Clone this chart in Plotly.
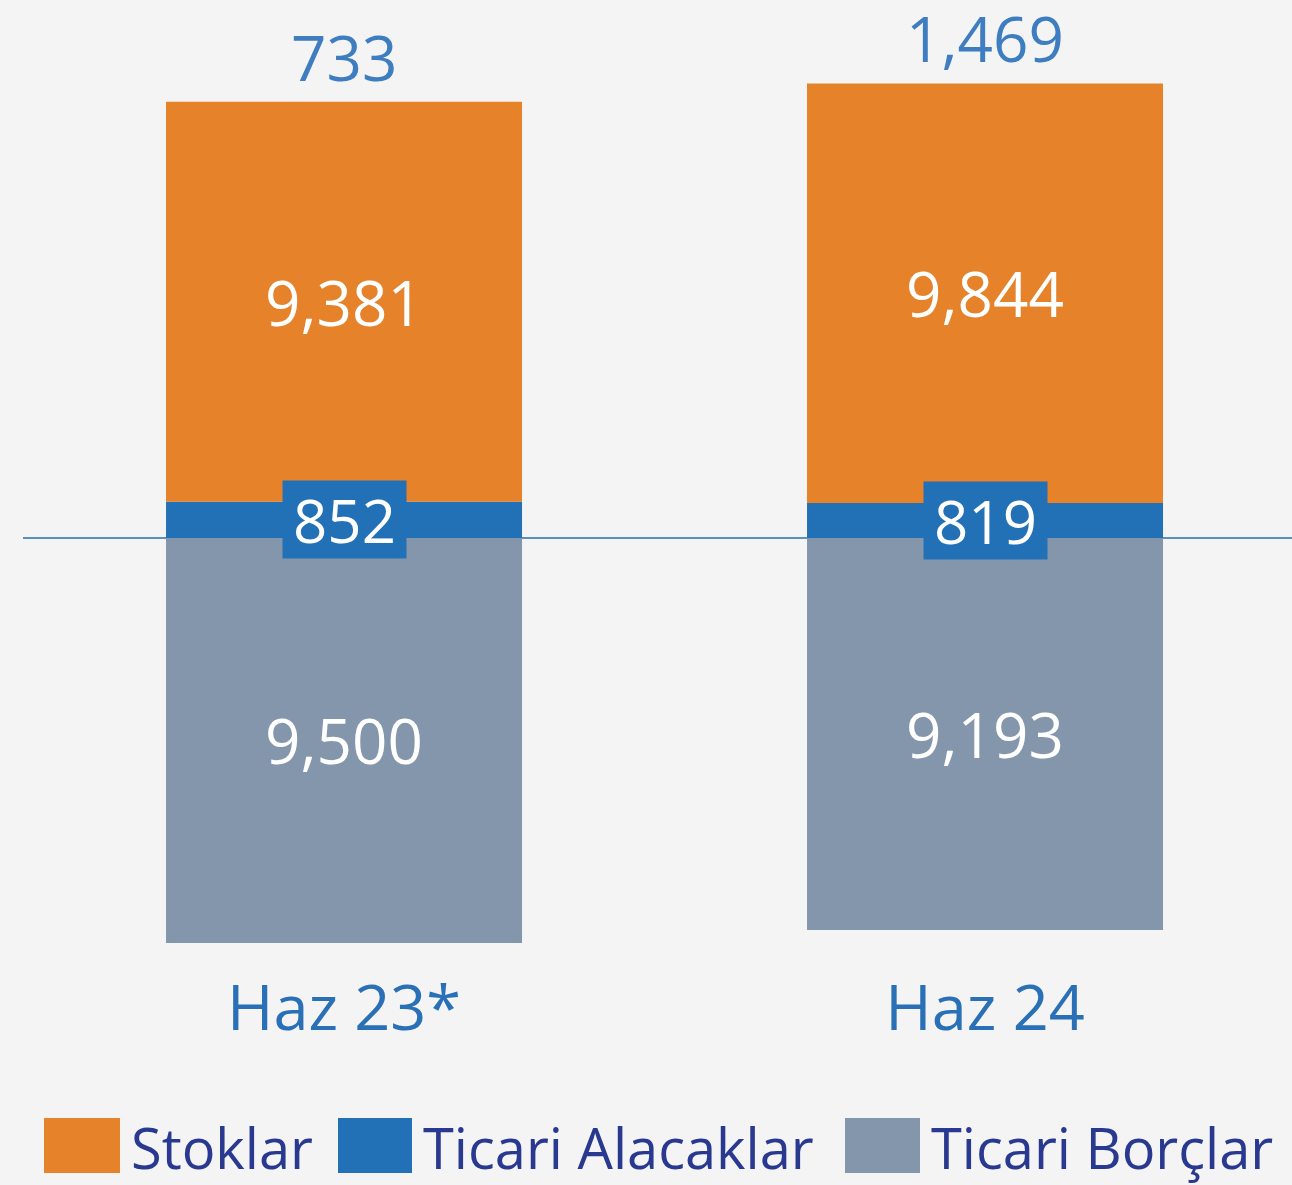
import plotly.graph_objects as go

# data
periods = ["Haz 23*", "Haz 24"]
stoklar = [9381, 9844]
alacaklar = [852, 819]
borclar = [-9500, -9193]
net = [733, 1469]

orange = "#E5822A"
blue = "#2271B7"
grey = "#8496AB"
bg = "#F4F4F4"
font = "Open Sans"

fig = go.Figure()

fig.add_trace(go.Bar(
    x=periods, y=borclar, name="Ticari Borçlar", marker_color=grey,
    text=[f"{abs(v):,}" for v in borclar], textposition="inside",
    insidetextanchor="middle", textfont=dict(color="white", size=62, family=font),
))
fig.add_trace(go.Bar(
    x=periods, y=alacaklar, name="Ticari Alacaklar", marker_color=blue,
))
fig.add_trace(go.Bar(
    x=periods, y=stoklar, name="Stoklar", marker_color=orange,
    text=[f"{v:,}" for v in stoklar], textposition="inside",
    insidetextanchor="middle", textfont=dict(color="white", size=62, family=font),
))
fig.update_traces(width=0.5554, marker_line_width=0, showlegend=False)

# receivables labels in a box
for p, a in zip(periods, alacaklar):
    fig.add_annotation(x=p, y=a / 2, text=f"{a:,}", showarrow=False,
                       font=dict(color="white", size=60, family=font),
                       bgcolor=blue, borderpad=0, yanchor="middle",
                       width=18 + 35 * len(f"{a:,}"), height=77)

# net totals on top
for p, s, a, n in zip(periods, stoklar, alacaklar, net):
    fig.add_annotation(x=p, y=s + a, text=f"{n:,}", showarrow=False,
                       font=dict(color="#3E7DC0", size=62, family=font),
                       yanchor="bottom", yshift=11, height=64)

# zero line
fig.add_shape(type="line", xref="paper", yref="y", x0=23 / 1292, x1=1, y0=0, y1=0,
              line=dict(color=blue, width=1.5), layer="below")

# custom legend
legend_items = [("Stoklar", orange, 44, 120), ("Ticari Alacaklar", blue, 338, 412),
                ("Ticari Borçlar", grey, 845, 920)]
plot_h = 960
for name, col, x0, x1 in legend_items:
    fig.add_shape(type="rect", xref="paper", yref="paper",
                  x0=x0 / 1292, x1=x1 / 1292,
                  y0=(plot_h - 1173) / plot_h, y1=(plot_h - 1118) / plot_h,
                  fillcolor=col, line_width=0)
    fig.add_annotation(xref="paper", yref="paper", x=(x1 + 9) / 1292,
                       y=(plot_h - 1147) / plot_h, text=name, showarrow=False,
                       xanchor="left", yanchor="middle",
                       font=dict(color="#2A3990", size=56, family=font))

fig.update_layout(
    barmode="relative",
    width=1292, height=1185,
    margin=dict(l=0, r=0, t=0, b=1185 - plot_h),
    paper_bgcolor=bg, plot_bgcolor=bg,
    xaxis=dict(range=[-0.5367, 1.4789], showgrid=False, zeroline=False,
               showline=False, ticks="", ticklabelstandoff=6,
               tickfont=dict(color="#2A70B6", size=63, family=font)),
    yaxis=dict(range=[-(plot_h - 538) / 0.04263, 538 / 0.04263], visible=False,
               showgrid=False, zeroline=False),
)

fig.write_html("out.html", config={"displayModeBar": False},
               post_script="document.body.style.margin='0';")
